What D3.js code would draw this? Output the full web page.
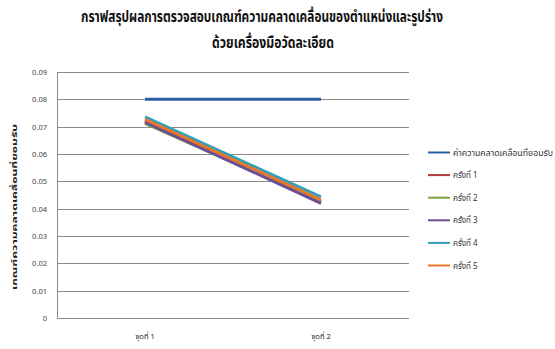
<!DOCTYPE html>
<html><head><meta charset="utf-8">
<script src="https://cdn.jsdelivr.net/npm/d3@7"></script>
<style>body{margin:0;background:#fff}svg{display:block}</style>
</head><body><svg id="c" width="555" height="349"></svg>
<script>
const categories = ["จุดที่ 1", "จุดที่ 2"];
const seriesNames = ["ค่าความคลาดเคลื่อนที่ยอมรับ", "ครั้งที่ 1", "ครั้งที่ 2", "ครั้งที่ 3", "ครั้งที่ 4", "ครั้งที่ 5"];
const tolerance = [0.08, 0.08];
const run1 = [0.0721, 0.0425];
const run2 = [0.0712, 0.0427];
const run3 = [0.0717, 0.0419];
const run4 = [0.0736, 0.0443];
const run5 = [0.0727, 0.0432];
const colors = ["#2D5CA6", "#B03A37", "#7DA63A", "#6A4E96", "#31A0B8", "#E8762B"];
const yTicks = [0, 0.01, 0.02, 0.03, 0.04, 0.05, 0.06, 0.07, 0.08, 0.09];
const title1 = "กราฟสรุปผลการตรวจสอบเกณฑ์ความคลาดเคลื่อนของตำแหน่งและรูปร่าง";
const title2 = "ด้วยเครื่องมือวัดละเอียด";
const yTitle = "เกณฑ์ความคลาดเคลื่อนที่ยอมรับ";

const allSeries = [tolerance, run1, run2, run3, run4, run5];
const svg = d3.select("#c");
const m = {l: 57, r: 409, t: 72, b: 318};
const x = d3.scaleBand().domain(categories).range([m.l, m.r]);
const y = d3.scaleLinear().domain([0, 0.09]).range([m.b, m.t]);
const font = "'Noto Sans Thai','Noto Sans','Liberation Sans',sans-serif";

// gridlines
svg.append("g").selectAll("line").data(yTicks).join("line")
  .attr("x1", m.l).attr("x2", m.r)
  .attr("y1", d => Math.round(y(d)) + 0.5).attr("y2", d => Math.round(y(d)) + 0.5)
  .attr("stroke", "#8a8a8a").attr("stroke-width", 1);

// y axis
const ya = svg.append("g").attr("transform", `translate(${m.l},0)`)
  .call(d3.axisLeft(y).tickValues(yTicks).tickSize(0).tickPadding(10)
    .tickFormat(d => d === 0 ? "0" : d3.format(".2f")(d)));
ya.select(".domain").attr("stroke", "#8a8a8a").attr("d", `M0.5,${m.t}V${m.b}`);
ya.selectAll("text").attr("font-family", font).attr("font-size", 7.5).attr("fill", "#444");

// x axis labels
const xa = svg.append("g").attr("transform", `translate(0,${m.b})`)
  .call(d3.axisBottom(x).tickSize(0).tickPadding(16));
xa.select(".domain").remove();
xa.selectAll("text").attr("font-family", font).attr("font-size", 7.5).attr("fill", "#222");

// lines
const line = d3.line().x((d, i) => x(categories[i]) + x.bandwidth() / 2).y(d => y(d));
svg.append("g").selectAll("path").data(allSeries).join("path")
  .attr("d", d => line(d)).attr("fill", "none")
  .attr("stroke", (d, i) => colors[i]).attr("stroke-width", 3);

// titles
svg.append("text").attr("x", 262).attr("y", 22).attr("text-anchor", "middle")
  .attr("font-family", font).attr("font-weight", "bold").attr("font-size", 15)
  .attr("textLength", 362).attr("lengthAdjust", "spacingAndGlyphs").attr("fill", "#111")
  .text(title1);
svg.append("text").attr("x", 273).attr("y", 48).attr("text-anchor", "middle")
  .attr("font-family", font).attr("font-weight", "bold").attr("font-size", 15)
  .attr("textLength", 122).attr("lengthAdjust", "spacingAndGlyphs").attr("fill", "#111")
  .text(title2);

// y title
svg.append("text").attr("transform", "translate(17,207) rotate(-90)").attr("text-anchor", "middle")
  .attr("font-family", font).attr("font-weight", "bold").attr("font-size", 7.5)
  .attr("textLength", 166).attr("lengthAdjust", "spacingAndGlyphs").attr("fill", "#222")
  .text(yTitle);

// legend
const lg = svg.append("g").selectAll("g").data(seriesNames).join("g")
  .attr("transform", (d, i) => `translate(428,${152.5 + i * 22.6})`);
lg.append("line").attr("x1", 0).attr("x2", 22).attr("stroke", (d, i) => colors[i]).attr("stroke-width", 2);
lg.append("text").attr("x", 25).attr("y", 3).attr("font-family", font).attr("font-size", 8).attr("fill", "#333")
  .each(function(d, i) { if (i === 0) d3.select(this).attr("textLength", 100).attr("lengthAdjust", "spacingAndGlyphs"); })
  .text(d => d);
</script></body></html>
